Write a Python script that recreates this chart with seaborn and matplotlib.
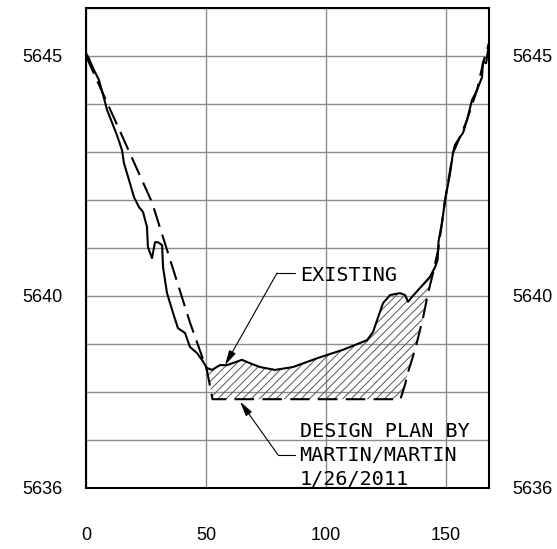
import numpy as np
import pandas as pd
import matplotlib
matplotlib.use("Agg")
import matplotlib.pyplot as plt
import seaborn as sns

# ---- data ----
existing_x = [0, 1.2, 3.3, 5.4, 7.5, 8.75, 10.4, 12.9, 15.0, 15.8, 17.9, 20.0, 22.1, 23.75,
              25.4, 25.8, 27.5, 28.75, 30.0, 31.7, 32.1, 33.75, 36.25, 38.3, 41.25, 43.3,
              46.25, 48.3, 50.4, 52.5, 55.8, 58.75, 65.0, 68.3, 72.5, 78.75, 86.25, 96.7,
              107.1, 117.1, 119.6, 121.7, 123.75, 126.7, 130.8, 132.9, 134.2, 135.8, 139.2,
              143.3, 145.4, 146.5, 146.9, 148.3, 149.6, 151.7, 152.9, 153.75, 155.8, 157.1,
              158.75, 160.8, 162.9, 165.0, 165.4, 166.7, 167.5, 167.9]
existing_y = [5645.06, 5644.95, 5644.71, 5644.5, 5644.12, 5643.88, 5643.67, 5643.35, 5643.04,
              5642.77, 5642.42, 5642.06, 5641.85, 5641.75, 5641.44, 5641.02, 5640.79, 5641.12,
              5641.12, 5641.06, 5640.6, 5640.06, 5639.65, 5639.33, 5639.23, 5638.94, 5638.81,
              5638.67, 5638.5, 5638.46, 5638.56, 5638.56, 5638.67, 5638.6, 5638.52, 5638.46,
              5638.52, 5638.71, 5638.88, 5639.08, 5639.25, 5639.56, 5639.85, 5640.02, 5640.06,
              5640.02, 5639.88, 5639.98, 5640.17, 5640.4, 5640.6, 5640.75, 5641.15, 5641.52,
              5642.0, 5642.56, 5642.98, 5643.15, 5643.31, 5643.4, 5643.67, 5644.08, 5644.29,
              5644.56, 5644.88, 5644.85, 5645.12, 5645.27]

design_x = [0, 10.4, 27.5, 43.3, 50.4, 52.7, 131.0, 132.9, 134.2, 137.1, 140.4, 142.5,
            144.6, 146.7, 148.3, 149.6, 152.9, 155.8, 158.75, 162.9, 165.4, 167.9]
design_y = [5645.0, 5643.85, 5641.95, 5639.45, 5638.45, 5637.85, 5637.85, 5638.15, 5638.42,
            5638.88, 5639.54, 5640.06, 5640.48, 5640.96, 5641.52, 5642.0, 5642.98, 5643.31,
            5643.67, 5644.29, 5644.85, 5645.27]

x_ticks = [0, 50, 100, 150]
y_grid = list(range(5636, 5647))
y_labels = {5636: "5636", 5640: "5640", 5645: "5645"}

existing_label = "EXISTING"
design_label = "DESIGN PLAN BY\nMARTIN/MARTIN\n1/26/2011"

# ---- style ----
sns.set_style("white")
plt.rcParams["font.family"] = ["Liberation Sans", "DejaVu Sans"]
plt.rcParams["lines.scale_dashes"] = False
plt.rcParams["hatch.linewidth"] = 0.7
plt.rcParams["hatch.color"] = "#555555"

fig = plt.figure(figsize=(5.57, 5.49), dpi=100)
ax = fig.add_axes([86 / 557, 61 / 549, 403 / 557, 480 / 549])

ex = pd.DataFrame({"x": existing_x, "y": existing_y})
de = pd.DataFrame({"x": design_x, "y": design_y})

# hatched cut area between existing ground and design
ex_seg = ex[(ex.x >= 50.4) & (ex.x <= 145.4)]
de_seg = de[(de.x >= 50.4) & (de.x <= 144.6)]
poly_x = list(ex_seg.x) + list(de_seg.x[::-1])
poly_y = list(ex_seg.y) + list(de_seg.y[::-1])
ax.fill(poly_x, poly_y, facecolor="none", edgecolor="#555555", hatch="////",
        linewidth=0, zorder=2)

sns.lineplot(data=ex, x="x", y="y", estimator=None, sort=False, color="black",
             linewidth=1.5, ax=ax, zorder=4)
sns.lineplot(data=de, x="x", y="y", estimator=None, sort=False, color="black",
             linewidth=1.5, linestyle=(0, (14, 6)), ax=ax, zorder=3)

ax.set_xlim(0, 167.9)
ax.set_ylim(5636, 5646)
ax.set_xticks(x_ticks)
ax.set_xticklabels([str(t) for t in x_ticks])
ax.set_yticks(y_grid)
ax.set_yticklabels([y_labels.get(v, "") for v in y_grid])
ax.grid(True, color="#8c8c8c", linewidth=1.0, zorder=0)
ax.set_axisbelow(True)
ax.tick_params(axis="y", length=0, pad=17, labelsize=13, labelright=True, right=False,
               labelcolor="black")
ax.tick_params(axis="x", length=0, pad=28, labelsize=13, labelcolor="black")
ax.set_xlabel("")
ax.set_ylabel("")
for s in ax.spines.values():
    s.set_visible(True)
    s.set_color("black")
    s.set_linewidth(1.5)

# annotations (CAD-like leaders)
cad_font = dict(family="DejaVu Sans Mono", fontsize=14.5, color="black")
ax.plot([79.6, 87.1], [5640.48, 5640.48], color="black", linewidth=0.8, zorder=5)
ax.annotate("", xy=(57.9, 5638.56), xytext=(79.6, 5640.48),
            arrowprops=dict(arrowstyle="-|>,head_length=0.9,head_width=0.22",
                            color="black", linewidth=0.8, shrinkA=0, shrinkB=0),
            zorder=5)
ax.text(89.3, 5640.31, existing_label, ha="left", va="baseline", zorder=5, **cad_font)

ax.plot([80.0, 87.1], [5636.69, 5636.69], color="black", linewidth=0.8, zorder=5)
ax.annotate("", xy=(64.2, 5637.8), xytext=(80.0, 5636.69),
            arrowprops=dict(arrowstyle="-|>,head_length=0.9,head_width=0.22",
                            color="black", linewidth=0.8, shrinkA=0, shrinkB=0),
            zorder=5)
for i, line in enumerate(design_label.split("\n")):
    ax.text(89.0, 5637.06 - i * 0.5, line, ha="left", va="baseline", zorder=5, **cad_font)

fig.savefig("out.png", dpi=100)
